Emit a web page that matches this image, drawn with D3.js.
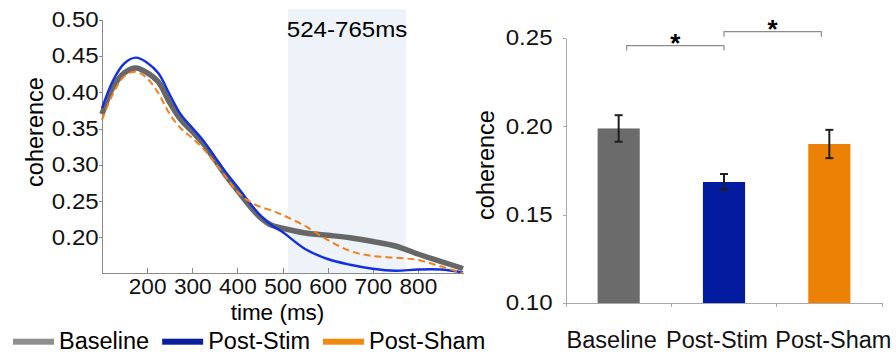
<!DOCTYPE html>
<html>
<head>
<meta charset="utf-8">
<script src="https://cdn.jsdelivr.net/npm/d3@7"></script>
<style>
  body { margin: 0; background: #fff; }
  svg { display: block; font-family: "Liberation Sans", Arial, sans-serif; }
  .axis path, .axis line { stroke: #8a8a8a; shape-rendering: crispEdges; }
  .axis.right path, .axis.right line { stroke: #a8a8a8; }
  .axis text { fill: #111; }
</style>
</head>
<body>
<div id="chart"></div>
<script>
// Time course (ms) and coherence per condition
var times = [100, 125, 150, 175, 200, 225, 250, 275, 300, 325, 350, 375, 400,
  425, 450, 475, 500, 550, 600, 650, 700, 750, 800, 850, 900];
var baselineSeries = [0.370, 0.408, 0.427, 0.4335, 0.427, 0.414, 0.386, 0.362,
  0.346, 0.329, 0.307, 0.285, 0.265, 0.245, 0.228, 0.217, 0.2126, 0.2061,
  0.203, 0.1996, 0.1944, 0.1882, 0.1772, 0.1671, 0.1572];
var postStimSeries = [0.378, 0.417, 0.440, 0.4477, 0.4408, 0.4262, 0.397, 0.369,
  0.351, 0.333, 0.311, 0.2892, 0.2699, 0.2493, 0.2309, 0.2171, 0.2075, 0.1841,
  0.1703, 0.1624, 0.1569, 0.1542, 0.1558, 0.1558, 0.1517];
var postShamSeries = [0.362, 0.3986, 0.4225, 0.4284, 0.4193, 0.3986, 0.370, 0.350,
  0.337, 0.322, 0.303, 0.283, 0.263, 0.2502, 0.2424, 0.2374, 0.2309, 0.2158,
  0.1965, 0.1813, 0.1744, 0.1721, 0.1689, 0.1602, 0.151];

var windowMs = [512, 774];
var windowLabel = "524-765ms";

var lineTicksX = [200, 300, 400, 500, 600, 700, 800];
var lineTicksY = [0.20, 0.25, 0.30, 0.35, 0.40, 0.45, 0.50];

// Bar chart: mean coherence in the window, with error bars
var categories = ["Baseline", "Post-Stim", "Post-Sham"];
var barMeans = [0.1988, 0.1685, 0.190];
var barErrors = [0.0075, 0.0045, 0.008];
var barTicksY = [0.10, 0.15, 0.20, 0.25];
var sigPairs = [
  ["Baseline", "Post-Stim", 0.2457],
  ["Post-Stim", "Post-Sham", 0.2536]
];

var COLORS = {
  baseline: "#676767",
  stim: "#1230df",
  sham: "#f07f1c",
  barBaseline: "#6b6b6b",
  barStim: "#031c9f",
  barSham: "#ec8106",
  keyBaseline: "#8e8e8e",
  keyStim: "#0a1f9c",
  keySham: "#ee8a12",
  shade: "#eef3f9"
};

// tick labels in the source are a bit wider than Arial
var WIDEN = "scale(1.12,1)";

var render = function() {
  var svg = d3.select("#chart")
    .append("svg")
    .attr("width", 896)
    .attr("height", 354);

  renderLineChart(svg);
  renderBarChart(svg);
  renderLegend(svg);
};

var renderLineChart = function(svg) {
  var xScale = d3.scaleLinear().domain([100, 900]).range([102, 463]);
  var yScale = d3.scaleLinear().domain([0.151, 0.50]).range([273, 19.7]);

  // highlighted window
  svg.append("rect")
    .attr("x", xScale(windowMs[0]))
    .attr("width", xScale(windowMs[1]) - xScale(windowMs[0]))
    .attr("y", yScale(0.515))
    .attr("height", yScale(0.151) - yScale(0.515))
    .attr("fill", COLORS.shade);

  svg.append("g")
    .attr("transform", "translate(" + (xScale(windowMs[0]) + xScale(windowMs[1])) / 2 + ",36.5)")
    .append("text")
    .attr("transform", "scale(1.07,1)")
    .attr("text-anchor", "middle")
    .style("font-size", "22.5px")
    .text(windowLabel);

  var yAxis = d3.axisLeft(yScale)
    .tickValues(lineTicksY)
    .tickSizeInner(3)
    .tickSizeOuter(0)
    .tickPadding(0)
    .tickFormat(d3.format(".2f"));

  svg.append("g")
    .attr("class", "y axis")
    .attr("transform", "translate(102,0)")
    .call(yAxis)
    .selectAll("text")
    .attr("transform", WIDEN)
    .style("font-size", "21.5px");

  var xAxis = d3.axisBottom(xScale)
    .tickValues(lineTicksX)
    .tickSizeInner(-5)
    .tickSizeOuter(0)
    .tickPadding(6)
    .tickFormat(d3.format("d"));

  svg.append("g")
    .attr("class", "x axis")
    .attr("transform", "translate(0,273)")
    .call(xAxis)
    .selectAll("text")
    .attr("transform", "scale(1.05,1)")
    .style("font-size", "21.5px");

  svg.append("text")
    .attr("x", 277.5)
    .attr("y", 320)
    .attr("text-anchor", "middle")
    .style("font-size", "22.5px")
    .text("time (ms)");

  svg.append("text")
    .attr("transform", "translate(43,132) rotate(-90)")
    .attr("text-anchor", "middle")
    .style("font-size", "23.5px")
    .text("coherence");

  var line = d3.line()
    .x(function(d) { return xScale(d[0]); })
    .y(function(d) { return yScale(d[1]); })
    .curve(d3.curveCatmullRom.alpha(0.5));

  var series = [
    { values: baselineSeries, color: COLORS.baseline, width: 5.5, dash: null },
    { values: postStimSeries, color: COLORS.stim, width: 2.4, dash: null },
    { values: postShamSeries, color: COLORS.sham, width: 2, dash: "7,4" }
  ];

  svg.append("g")
    .selectAll("path")
    .data(series)
    .enter()
    .append("path")
    .attr("fill", "none")
    .attr("stroke", function(d) { return d.color; })
    .attr("stroke-width", function(d) { return d.width; })
    .attr("stroke-dasharray", function(d) { return d.dash; })
    .attr("d", function(d) {
      return line(times.map(function(t, i) { return [t, d.values[i]]; }));
    });
};

var renderBarChart = function(svg) {
  var xScale = d3.scaleBand()
    .domain(categories)
    .range([566, 882])
    .paddingInner(0.6)
    .paddingOuter(0.3);
  var yScale = d3.scaleLinear().domain([0.10, 0.25]).range([303, 38]);
  var barColors = [COLORS.barBaseline, COLORS.barStim, COLORS.barSham];
  var labelShift = [-7, -7, 4];

  var yAxis = d3.axisLeft(yScale)
    .tickValues(barTicksY)
    .tickSizeInner(3)
    .tickSizeOuter(0)
    .tickPadding(9)
    .tickFormat(d3.format(".2f"));

  svg.append("g")
    .attr("class", "y axis right")
    .attr("transform", "translate(566,0)")
    .call(yAxis)
    .selectAll("text")
    .attr("transform", WIDEN)
    .style("font-size", "21.5px");

  svg.append("text")
    .attr("transform", "translate(494,165) rotate(-90)")
    .attr("text-anchor", "middle")
    .style("font-size", "23.5px")
    .text("coherence");

  // bars
  svg.append("g")
    .selectAll("rect")
    .data(categories)
    .enter()
    .append("rect")
    .attr("x", function(d) { return xScale(d); })
    .attr("width", xScale.bandwidth())
    .attr("y", function(d, i) { return yScale(barMeans[i]); })
    .attr("height", function(d, i) { return yScale(0.10) - yScale(barMeans[i]); })
    .attr("fill", function(d, i) { return barColors[i]; });

  var xAxis = d3.axisBottom(xScale)
    .tickSize(0)
    .tickPadding(28);

  var xAxisG = svg.append("g")
    .attr("class", "x axis right")
    .attr("transform", "translate(0,303)")
    .call(xAxis);
  xAxisG.selectAll("text")
    .attr("x", function(d, i) { return labelShift[i]; })
    .style("font-size", "23.5px");

  // tick marks between the categories
  var halfGap = xScale.step() * xScale.paddingInner() / 2;
  var bounds = categories.map(function(c) { return xScale(c) - halfGap; });
  bounds.push(xScale(categories[categories.length - 1]) + xScale.bandwidth() + halfGap);
  xAxisG.selectAll(".bound")
    .data(bounds)
    .enter()
    .append("line")
    .attr("class", "bound")
    .attr("x1", function(d) { return d; })
    .attr("x2", function(d) { return d; })
    .attr("y1", 0)
    .attr("y2", 4);

  // error bars
  var center = function(c) { return xScale(c) + xScale.bandwidth() / 2; };
  var err = svg.append("g")
    .attr("stroke", "#1e1e1e")
    .attr("stroke-width", 2);
  categories.forEach(function(c, i) {
    var top = yScale(barMeans[i] + barErrors[i]);
    var bot = yScale(barMeans[i] - barErrors[i]);
    var cx = center(c);
    err.append("line").attr("x1", cx).attr("x2", cx).attr("y1", top).attr("y2", bot);
    err.append("line").attr("x1", cx - 4).attr("x2", cx + 4).attr("y1", top).attr("y2", top);
    err.append("line").attr("x1", cx - 4).attr("x2", cx + 4).attr("y1", bot).attr("y2", bot);
  });

  // significance brackets
  var endX = function(c, toward) {
    if (c === categories[1]) return center(c);
    return center(c) + (toward > center(c) ? 8 : -8);
  };
  sigPairs.forEach(function(p) {
    var x1 = endX(p[0], center(p[1]));
    var x2 = endX(p[1], center(p[0]));
    var y = yScale(p[2]);
    svg.append("path")
      .attr("fill", "none")
      .attr("stroke", "#8c8c8c")
      .attr("stroke-width", 1.2)
      .attr("d", "M" + x1 + "," + (y + 5) + "V" + y + "H" + x2 + "V" + (y + 5));
    svg.append("text")
      .attr("x", (x1 + x2) / 2)
      .attr("y", y + 6)
      .attr("text-anchor", "middle")
      .style("font-size", "26px")
      .style("font-weight", "bold")
      .text("*");
  });
};

var renderLegend = function(svg) {
  var items = [
    { label: "Baseline", color: COLORS.keyBaseline },
    { label: "Post-Stim", color: COLORS.keyStim },
    { label: "Post-Sham", color: COLORS.keySham }
  ];
  var x = 13;
  items.forEach(function(d) {
    svg.append("rect")
      .attr("x", x)
      .attr("y", 338.7)
      .attr("width", 41)
      .attr("height", 6)
      .attr("fill", d.color);
    var t = svg.append("text")
      .attr("x", x + 46)
      .attr("y", 348.5)
      .style("font-size", "23.5px")
      .text(d.label);
    x = x + 46 + t.node().getComputedTextLength() + 13;
  });
};

window.onload = render;
</script>
</body>
</html>
